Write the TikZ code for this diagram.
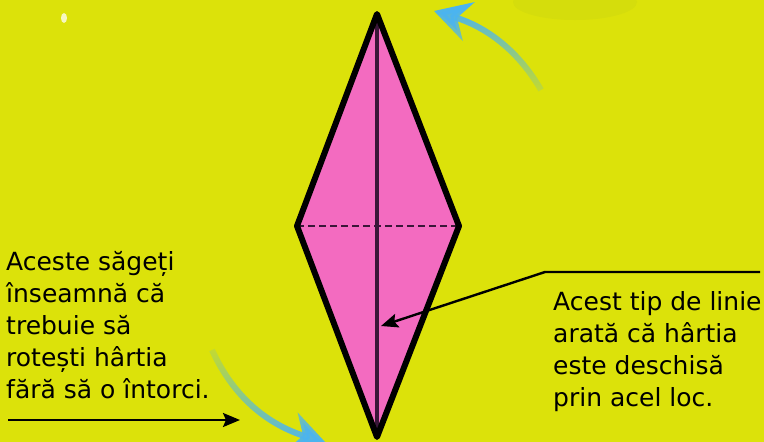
\documentclass[tikz,border=0pt]{standalone}
\usepackage{fontspec}
\setmainfont{DejaVu Sans}
\usetikzlibrary{arrows.meta,fadings}
\definecolor{bgcol}{HTML}{DCE20A}
\definecolor{blobcol}{HTML}{D5DD0C}
\definecolor{kitepink}{HTML}{F36BC0}
\definecolor{foldcol}{HTML}{3A1638}
\definecolor{turnblue}{HTML}{4BB4F0}
\tikzfading[name=tailbottom, top color=transparent!0, middle color=transparent!0, bottom color=transparent!85]
\tikzfading[name=tailtop, top color=transparent!85, middle color=transparent!10, bottom color=transparent!0]
\tikzset{
  outline/.style={line width=6pt, line join=round, draw=black},
  foldline/.style={line width=3.4pt, draw=foldcol},
  openline/.style={line width=1.8pt, draw=foldcol, dash pattern=on 7pt off 4pt},
  pointer/.style={line width=2.4pt, draw=black, -{Stealth[length=17pt,width=14pt,inset=3pt]}},
  turnarrow/.style={line width=6pt, draw=turnblue, -{Stealth[length=36pt,width=40pt,inset=12pt]}},
  lbl/.style={inner sep=0pt, align=left, font=\fontsize{25}{32}\selectfont, anchor=north west},
}
\begin{document}
\begin{tikzpicture}[x=1pt,y=-1pt]
\fill[bgcol] (0,0) rectangle (764,442);
\useasboundingbox (0,0) rectangle (764,442);
\fill[blobcol] (575,2) ellipse [x radius=62pt, y radius=18pt];
\fill[white, opacity=0.75] (64,18) ellipse [x radius=3pt, y radius=5pt];
% kite
\coordinate (T) at (377,14);
\coordinate (R) at (459,226);
\coordinate (B) at (377,437);
\coordinate (L) at (297,226);
\coordinate (P) at (381,326);
\coordinate (K) at (545,272);
\coordinate (E) at (760,272);
\fill[kitepink] (T)--(R)--(B)--(L)--cycle;
\draw[openline] (L)--(R);
\draw[foldline] (T)--(B);
\draw[outline] (T)--(R)--(B)--(L)--cycle;
% pointer to fold
\draw[pointer] (E)--(K)--(P);
% blue turn arrows
\coordinate (A1) at (541,90);
\coordinate (A2) at (434,11);
\draw[turnarrow, path fading=tailbottom] (A1) .. controls (515,45) and (480,25) .. (A2);
\coordinate (A3) at (212,350);
\coordinate (A4) at (326,443);
\draw[turnarrow, path fading=tailtop] (A3) .. controls (235,400) and (270,425) .. (A4);
% texts
\node[lbl] (left) at (6,251) {Aceste săgeți\\înseamnă că\\trebuie să\\rotești hârtia\\fără să o întorci.};
\coordinate (S1) at (8,420);
\coordinate (S2) at (240,420);
\draw[pointer] (S1)--(S2);
\node[lbl] (right) at (553,291) {Acest tip de linie\\arată că hârtia\\este deschisă\\prin acel loc.};
\end{tikzpicture}
\end{document}
